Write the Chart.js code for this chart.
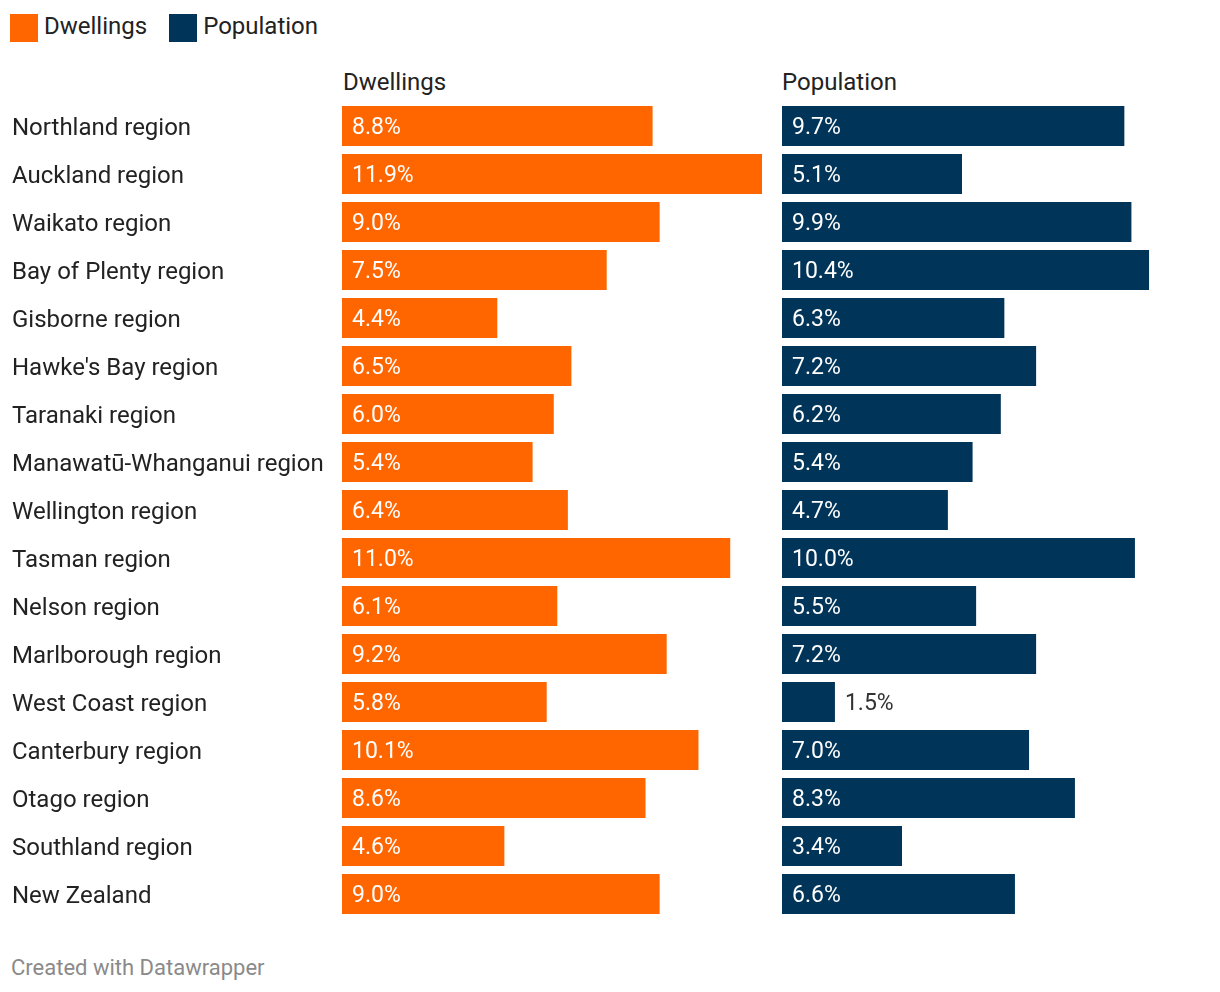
<!DOCTYPE html>
<html>
<head>
<meta charset="utf-8">
<script src="https://cdn.jsdelivr.net/npm/chart.js@4/dist/chart.umd.min.js"></script>
<style>
  html, body { margin: 0; padding: 0; background: #fff; }
  body { width: 1220px; height: 992px; position: relative; overflow: hidden; font-family: Roboto, "Noto Sans", sans-serif; }
  .legend { position: absolute; left: 10px; top: 14px; display: flex; align-items: center; font-size: 24px; color: #222; line-height: 28px; }
  .legend .sw { width: 28px; height: 28px; display: inline-block; margin-right: 6px; }
  .legend .item { display: flex; align-items: center; margin-right: 22px; }
  .legend .txt { position: relative; top: -2px; }
  .hdr { position: absolute; top: 68px; font-size: 24px; color: #222; line-height: 28px; }
  .footer { position: absolute; left: 11px; top: 955px; font-size: 22px; color: #8a8a8a; line-height: 26px; }
  .box { position: absolute; top: 0; }
</style>
</head>
<body>
<div class="legend">
  <div class="item"><span class="sw" style="background:#ff6600"></span><span class="txt">Dwellings</span></div>
  <div class="item"><span class="sw" style="background:#003459"></span><span class="txt">Population</span></div>
</div>
<div class="hdr" style="left:343px">Dwellings</div>
<div class="hdr" style="left:782px">Population</div>
<div class="box" style="left:0; width:762px; height:930px;"><canvas id="c1"></canvas></div>
<div class="box" style="left:782px; width:420px; height:930px;"><canvas id="c2"></canvas></div>
<div class="footer">Created with Datawrapper</div>
<script>
const categories = [
  "Northland region", "Auckland region", "Waikato region", "Bay of Plenty region",
  "Gisborne region", "Hawke's Bay region", "Taranaki region", "Manawatū-Whanganui region",
  "Wellington region", "Tasman region", "Nelson region", "Marlborough region",
  "West Coast region", "Canterbury region", "Otago region", "Southland region", "New Zealand"
];
const dwellings = [8.8, 11.9, 9.0, 7.5, 4.4, 6.5, 6.0, 5.4, 6.4, 11.0, 6.1, 9.2, 5.8, 10.1, 8.6, 4.6, 9.0];
const population = [9.7, 5.1, 9.9, 10.4, 6.3, 7.2, 6.2, 5.4, 4.7, 10.0, 5.5, 7.2, 1.5, 7.0, 8.3, 3.4, 6.6];
const seriesNames = ["Dwellings", "Population"];
const colors = ["#ff6600", "#003459"];
const scaleMax = 11.9;

const FONT = "Roboto, 'Noto Sans', sans-serif";

const valueLabels = {
  id: 'valueLabels',
  afterDatasetsDraw(chart) {
    const ctx = chart.ctx;
    ctx.save();
    ctx.font = "23px " + FONT;
    ctx.textBaseline = 'middle';
    ctx.textAlign = 'left';
    chart.data.datasets.forEach((ds, di) => {
      const meta = chart.getDatasetMeta(di);
      meta.data.forEach((bar, i) => {
        const txt = ds.data[i].toFixed(1) + '%';
        const w = ctx.measureText(txt).width;
        const barW = bar.x - bar.base;
        if (w + 22 <= barW) {
          ctx.fillStyle = '#ffffff';
          ctx.fillText(txt, bar.base + 10, bar.y + 2);
        } else {
          ctx.fillStyle = '#333333';
          ctx.fillText(txt, bar.x + 10, bar.y + 2);
        }
      });
    });
    ctx.restore();
  }
};

function makeChart(id, name, data, color, showLabels) {
  const yScale = showLabels ? {
    display: true,
    grid: { display: false },
    border: { display: false },
    ticks: { crossAlign: 'far', padding: 0, labelOffset: 3, color: '#222', font: { family: FONT, size: 24 } },
    afterFit: (s) => { s.width = 330; s.paddingTop = 0; s.paddingBottom = 0; }
  } : { display: false };
  return new Chart(document.getElementById(id), {
    type: 'bar',
    data: {
      labels: categories,
      datasets: [{ label: name, data: data, backgroundColor: color, borderWidth: 0,
                   categoryPercentage: 1, barPercentage: 40 / 48 }]
    },
    options: {
      indexAxis: 'y',
      responsive: true,
      maintainAspectRatio: false,
      animation: false,
      layout: { padding: { left: showLabels ? 12 : 0, right: 0, top: 102, bottom: 12 } },
      plugins: { legend: { display: false }, tooltip: { enabled: false }, title: { display: false } },
      scales: {
        x: { display: false, min: 0, max: scaleMax },
        y: yScale
      }
    },
    plugins: [valueLabels]
  });
}

makeChart('c1', seriesNames[0], dwellings, colors[0], true);
makeChart('c2', seriesNames[1], population, colors[1], false);
</script>
</body>
</html>
